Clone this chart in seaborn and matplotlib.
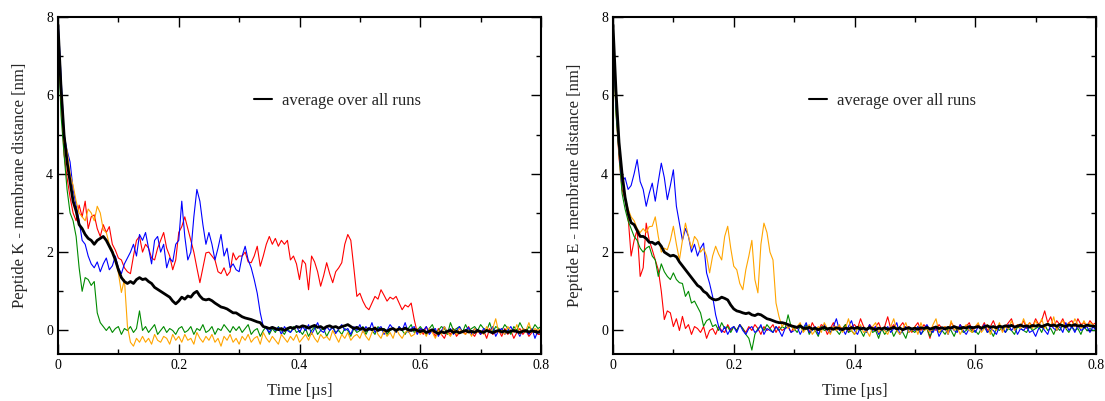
import numpy as np
import pandas as pd
import matplotlib
matplotlib.use("Agg")
import matplotlib.pyplot as plt
import seaborn as sns
from matplotlib.ticker import MultipleLocator, FuncFormatter
from matplotlib.lines import Line2D

# sample times (us): one value every 0.005 us, 0 .. 0.8
time_us = np.round(np.arange(161) * 0.005, 3)

# ---------------- Peptide K ----------------
k_red = [
    7.5, 6.0, 4.5, 3.9, 3.4, 3.0, 2.8, 3.2, 2.9, 3.3, 2.6, 2.9, 2.95, 2.6, 2.4, 2.7, 2.5, 2.65, 2.2, 2.05,
    1.85, 1.8, 1.6, 1.5, 1.45, 1.9, 2.3, 2.4, 2.0, 2.2, 2.1, 1.85, 1.8, 2.1, 2.3, 2.5, 2.1, 1.9, 1.55, 1.8,
    2.5, 2.65, 2.9, 2.6, 2.3, 2.0, 1.6, 1.22, 1.6, 1.98, 2.0, 1.9, 1.8, 1.5, 1.45, 1.6, 1.4, 1.5, 1.98, 1.8,
    1.9, 1.9, 2.0, 1.75, 1.73, 1.9, 2.15, 1.64, 1.9, 2.2, 2.4, 2.2, 2.35, 2.15, 2.3, 2.2, 2.3, 1.8, 1.9, 1.7,
    1.3, 1.8, 1.7, 1.04, 1.9, 1.75, 1.5, 1.13, 1.4, 1.73, 1.45, 1.22, 1.5, 1.6, 1.73, 2.2, 2.45, 2.3, 1.6, 0.87,
    0.95, 0.75, 0.6, 0.53, 0.7, 0.87, 0.8, 1.04, 0.9, 0.75, 0.85, 0.8, 0.87, 0.7, 0.53, 0.65, 0.6, 0.7, 0.28, -0.05,
    0.05, -0.1, 0.1, -0.05, 0.0, -0.15, 0.05, -0.1, -0.2, 0.0, -0.1, 0.05, -0.15, -0.05, 0.0, -0.1, 0.1, -0.05, -0.15, 0.0,
    -0.1, 0.0, -0.2, 0.05, -0.1, -0.05, 0.0, -0.15, 0.05, -0.1, 0.0, -0.2, -0.05, 0.05, -0.1, 0.0, -0.15, -0.05, 0.0, -0.1,
    -0.1,
]
k_green = [
    7.6, 5.5, 4.5, 3.6, 3.0, 2.8, 2.4, 1.6, 1.0, 1.35, 1.3, 1.15, 1.25, 0.45, 0.2, 0.1, 0.0, 0.1, -0.05, 0.05,
    0.1, -0.1, 0.05, 0.0, 0.1, -0.05, 0.05, 0.5, 0.0, 0.1, -0.05, 0.05, 0.15, -0.1, 0.0, 0.1, -0.05, 0.05, 0.0, -0.1,
    0.05, 0.1, -0.05, 0.0, 0.1, -0.1, 0.05, 0.0, 0.15, -0.05, 0.0, 0.1, -0.1, 0.05, 0.0, 0.15, 0.05, -0.05, 0.1, 0.0,
    0.1, -0.05, 0.05, 0.15, -0.1, 0.0, 0.05, -0.15, 0.0, 0.1, -0.1, 0.05, -0.05, 0.1, 0.0, -0.1, 0.05, -0.05, 0.1, -0.05,
    0.0, -0.1, 0.05, -0.15, 0.0, 0.1, -0.1, 0.0, 0.05, -0.15, 0.0, 0.1, -0.05, 0.0, -0.1, 0.05, 0.0, -0.15, 0.05, -0.05,
    0.0, 0.1, -0.1, 0.05, 0.0, -0.1, 0.1, 0.0, 0.05, -0.1, 0.0, 0.05, -0.05, 0.1, 0.0, -0.1, 0.05, 0.15, -0.05, 0.0,
    0.1, 0.0, -0.1, 0.05, 0.15, -0.05, 0.0, 0.1, 0.05, -0.1, 0.2, 0.0, 0.05, 0.1, -0.05, 0.15, 0.0, 0.05, 0.1, 0.0,
    0.15, 0.05, 0.0, 0.2, -0.05, 0.1, 0.05, 0.0, 0.15, 0.05, -0.1, 0.1, 0.0, 0.2, 0.05, -0.05, 0.1, 0.0, 0.15, 0.05,
    0.1,
]
k_blue = [
    8.0, 6.5, 5.0, 4.6, 4.3, 3.6, 3.2, 2.8, 2.3, 2.2, 1.9, 1.7, 1.6, 1.75, 1.5, 1.7, 1.85, 1.55, 1.65, 1.9,
    1.6, 1.45, 1.7, 1.85, 2.0, 2.2, 1.9, 2.45, 2.3, 2.5, 2.1, 1.7, 2.3, 2.4, 2.0, 2.2, 1.6, 1.85, 1.75, 2.2,
    2.3, 3.3, 2.4, 1.8, 2.0, 2.9, 3.6, 3.3, 2.7, 2.2, 2.5, 2.2, 1.8, 2.1, 2.45, 1.9, 2.1, 1.6, 1.7, 1.55,
    1.5, 1.9, 2.15, 1.8, 1.6, 1.3, 0.95, 0.45, 0.1, 0.05, -0.05, 0.1, 0.0, 0.08, -0.1, 0.1, 0.0, -0.05, 0.05, 0.12,
    -0.05, 0.1, 0.0, 0.15, -0.1, 0.05, 0.2, 0.0, -0.05, 0.1, 0.0, 0.08, -0.08, 0.05, 0.15, 0.0, 0.05, -0.1, 0.1, 0.0,
    0.15, -0.05, 0.1, 0.0, 0.2, -0.05, 0.05, 0.1, -0.1, 0.0, 0.15, 0.05, -0.05, 0.1, 0.0, 0.2, -0.05, 0.05, 0.1, -0.1,
    0.05, 0.0, 0.1, -0.1, 0.0, 0.05, -0.15, 0.0, 0.1, -0.05, 0.05, -0.1, 0.0, 0.1, -0.05, 0.0, 0.08, -0.1, 0.05, 0.0,
    -0.1, 0.05, 0.0, -0.05, 0.1, -0.15, 0.0, 0.05, -0.1, 0.0, 0.1, -0.05, 0.0, -0.15, 0.05, 0.0, -0.1, 0.05, -0.2, 0.0,
    -0.1,
]
k_orange = [
    7.5, 6.0, 4.8, 4.6, 4.0, 3.7, 3.3, 3.0, 2.9, 2.8, 3.1, 3.0, 2.8, 3.17, 3.0, 2.57, 2.5, 2.2, 2.06, 1.8,
    1.47, 0.97, 1.3, 0.11, -0.3, -0.4, -0.2, -0.3, -0.15, -0.3, -0.2, -0.35, -0.1, -0.25, -0.3, -0.15, -0.2, -0.35, -0.1, -0.25,
    -0.15, -0.3, -0.1, -0.25, -0.2, -0.35, -0.05, -0.2, -0.3, -0.15, -0.25, -0.1, -0.3, -0.2, -0.4, -0.15, -0.25, -0.1, -0.3, -0.2,
    -0.35, -0.15, -0.25, -0.1, -0.3, -0.2, -0.15, -0.35, -0.05, -0.2, -0.3, -0.15, -0.25, -0.35, -0.1, -0.2, -0.3, -0.15, -0.25, -0.1,
    -0.3, -0.2, -0.1, -0.25, -0.05, -0.2, -0.3, -0.1, -0.2, -0.15, -0.25, 0.0, -0.15, -0.3, -0.1, -0.2, -0.05, -0.25, -0.15, -0.1,
    -0.2, 0.0, -0.15, -0.25, -0.05, 0.1, -0.1, -0.2, 0.0, -0.15, -0.05, -0.2, 0.05, -0.1, -0.2, -0.05, 0.0, -0.15, -0.1, 0.05,
    -0.1, 0.0, -0.15, 0.05, -0.05, -0.2, 0.0, -0.1, 0.1, -0.05, -0.15, 0.0, -0.1, 0.05, -0.05, -0.1, 0.0, -0.15, 0.05, -0.05,
    0.0, -0.1, 0.1, -0.05, 0.05, 0.3, -0.05, 0.0, -0.1, 0.1, 0.0, -0.05, 0.15, -0.1, 0.05, 0.0, 0.2, -0.05, 0.05, 0.0,
    0.05,
]
k_avg = [
    7.8, 6.2, 5.0, 4.3, 3.8, 3.3, 3.05, 2.7, 2.6, 2.45, 2.35, 2.3, 2.2, 2.3, 2.35, 2.4, 2.3, 2.15, 2.0, 1.8,
    1.55, 1.35, 1.25, 1.2, 1.25, 1.2, 1.3, 1.35, 1.3, 1.32, 1.25, 1.2, 1.1, 1.05, 1.0, 0.95, 0.9, 0.85, 0.75, 0.68,
    0.75, 0.85, 0.8, 0.88, 0.85, 0.95, 1.0, 0.88, 0.8, 0.78, 0.8, 0.76, 0.7, 0.65, 0.6, 0.58, 0.55, 0.5, 0.45, 0.45,
    0.4, 0.35, 0.32, 0.3, 0.28, 0.25, 0.22, 0.2, 0.1, 0.08, 0.05, 0.08, 0.05, 0.02, 0.05, 0.0, 0.05, 0.08, 0.05, 0.1,
    0.08, 0.12, 0.1, 0.06, 0.1, 0.13, 0.08, 0.1, 0.05, 0.1, 0.12, 0.08, 0.1, 0.06, 0.1, 0.12, 0.15, 0.1, 0.05, 0.08,
    0.03, 0.06, 0.0, 0.05, 0.02, 0.06, 0.0, 0.04, 0.02, -0.02, 0.03, 0.05, 0.0, 0.04, 0.02, 0.06, 0.02, 0.0, 0.03, 0.0,
    -0.03, 0.0, -0.05, -0.02, 0.02, -0.04, -0.08, -0.03, -0.06, -0.02, 0.0, -0.05, -0.02, -0.06, -0.03, 0.0, -0.04, -0.02, -0.05, 0.0,
    -0.03, -0.05, 0.0, -0.03, -0.06, -0.02, 0.0, -0.04, -0.01, -0.05, -0.02, 0.0, -0.03, -0.05, -0.02, 0.0, -0.04, -0.01, -0.03, -0.05,
    -0.03,
]

# ---------------- Peptide E ----------------
e_red = [
    7.4, 5.6, 4.4, 3.6, 3.34, 2.9, 1.9, 2.3, 2.57, 1.38, 1.6, 2.74, 2.3, 2.06, 1.8, 1.55, 1.0, 0.28, 0.5, 0.45,
    0.1, 0.3, 0.0, 0.36, 0.05, 0.15, -0.1, 0.1, 0.05, -0.05, 0.1, -0.2, 0.0, 0.05, -0.1, 0.1, 0.0, -0.05, 0.15, 0.0,
    0.1, 0.0, 0.15, 0.05, -0.05, 0.1, 0.0, 0.15, 0.05, -0.1, 0.1, 0.0, 0.05, 0.15, -0.05, 0.1, 0.0, 0.05, 0.1, -0.05,
    0.1, 0.05, 0.15, 0.0, 0.1, -0.05, 0.2, 0.05, 0.0, 0.15, 0.1, -0.1, 0.05, 0.2, 0.0, 0.1, 0.05, 0.15, -0.05, 0.1,
    0.15, 0.05, 0.3, 0.1, 0.0, 0.15, 0.05, 0.1, 0.2, 0.0, 0.1, 0.35, 0.05, 0.15, 0.0, 0.1, 0.2, 0.05, 0.1, -0.05,
    0.1, 0.2, 0.0, 0.15, 0.05, -0.2, 0.1, 0.0, 0.15, 0.05, 0.1, -0.05, 0.2, 0.1, 0.0, 0.15, 0.05, 0.1, 0.2, 0.0,
    0.1, 0.15, 0.05, 0.2, 0.0, 0.1, 0.25, 0.05, 0.15, 0.0, 0.1, 0.2, 0.3, 0.05, 0.15, 0.1, 0.25, 0.05, 0.2, 0.1,
    0.3, 0.15, 0.25, 0.5, 0.2, 0.35, 0.1, 0.25, 0.15, 0.3, 0.1, 0.2, 0.25, 0.1, 0.3, 0.15, 0.2, 0.1, 0.25, 0.15,
    0.2,
]
e_green = [
    7.5, 5.5, 4.5, 3.5, 3.1, 2.8, 2.6, 2.4, 2.3, 2.1, 2.0, 2.1, 2.15, 1.9, 1.8, 1.38, 1.7, 1.5, 1.38, 1.3,
    1.47, 1.3, 1.22, 1.2, 0.87, 1.0, 0.7, 0.75, 0.6, 0.45, 0.11, 0.25, 0.3, 0.1, 0.15, 0.0, 0.2, 0.05, 0.1, -0.05,
    0.1, 0.0, 0.15, 0.05, -0.1, -0.2, -0.5, -0.1, 0.05, 0.1, 0.0, 0.15, 0.05, -0.05, 0.1, 0.0, 0.1, 0.05, 0.4, 0.1,
    0.05, -0.05, 0.1, 0.0, 0.15, -0.1, 0.05, 0.0, -0.15, 0.1, 0.0, 0.05, -0.05, 0.1, 0.0, -0.1, 0.05, 0.15, -0.05, 0.0,
    -0.1, 0.05, 0.0, -0.15, 0.05, 0.1, -0.05, 0.0, -0.2, 0.05, -0.1, 0.0, 0.05, -0.15, 0.0, 0.1, -0.05, -0.2, 0.05, 0.0,
    -0.05, 0.1, -0.1, 0.0, 0.05, -0.15, 0.0, 0.1, -0.05, 0.0, -0.1, 0.05, 0.0, -0.15, 0.05, 0.1, -0.05, 0.0, 0.1, -0.05,
    0.0, -0.1, 0.05, 0.1, -0.05, 0.0, -0.15, 0.05, 0.0, 0.1, -0.05, 0.05, 0.0, -0.1, 0.1, 0.05, 0.0, -0.05, 0.1, 0.0,
    0.05, 0.1, -0.05, 0.15, 0.0, 0.05, -0.1, 0.1, 0.0, 0.15, 0.05, -0.05, 0.1, 0.0, 0.05, -0.1, 0.1, 0.0, 0.05, 0.0,
    0.0,
]
e_blue = [
    7.6, 5.8, 4.6, 3.8, 3.9, 3.6, 3.7, 4.0, 4.36, 3.8, 3.6, 3.17, 3.5, 3.76, 3.3, 3.8, 4.27, 3.9, 3.34, 3.7,
    4.1, 3.17, 2.74, 2.3, 2.6, 2.4, 2.0, 2.2, 1.9, 2.1, 2.23, 1.47, 1.2, 0.87, 0.4, 0.1, -0.05, 0.1, -0.1, 0.05,
    0.1, -0.05, 0.15, 0.0, -0.1, 0.05, 0.1, -0.05, 0.0, 0.15, -0.1, 0.05, 0.0, -0.05, 0.1, 0.0, -0.15, 0.05, 0.1, -0.05,
    0.0, 0.1, -0.1, 0.05, 0.2, -0.05, 0.0, 0.1, -0.1, 0.05, 0.15, 0.0, -0.05, 0.1, 0.3, 0.0, 0.05, -0.1, 0.1, 0.25,
    0.0, -0.1, 0.1, 0.05, -0.05, 0.15, 0.0, 0.1, -0.1, 0.05, 0.0, 0.1, -0.05, 0.05, 0.2, -0.1, 0.0, 0.1, -0.05, 0.05,
    0.0, 0.1, -0.1, 0.05, 0.15, 0.0, -0.05, 0.1, -0.15, 0.0, 0.05, -0.1, 0.1, 0.0, -0.05, 0.15, 0.0, -0.1, 0.05, 0.1,
    -0.05, 0.1, 0.0, 0.15, -0.05, 0.05, 0.0, -0.1, 0.1, 0.05, -0.05, 0.15, 0.0, 0.1, -0.1, 0.05, 0.0, 0.1, -0.05, 0.0,
    -0.15, 0.05, 0.1, 0.0, -0.1, 0.15, 0.05, 0.0, 0.1, -0.05, 0.2, 0.0, 0.1, -0.05, 0.15, 0.0, 0.05, 0.1, -0.05, 0.1,
    0.0,
]
e_orange = [
    7.7, 6.0, 4.6, 4.0, 3.4, 3.1, 2.9, 2.8, 2.6, 2.5, 2.6, 2.5, 2.65, 2.66, 2.9, 2.4, 2.0, 2.1, 2.06, 2.3,
    2.66, 2.2, 1.8, 2.3, 2.74, 2.4, 2.1, 2.4, 2.3, 2.0, 2.1, 1.9, 1.47, 1.9, 2.15, 1.95, 1.8, 2.4, 2.66, 2.1,
    1.64, 1.55, 1.2, 1.04, 1.55, 1.9, 2.3, 1.3, 0.96, 2.2, 2.74, 2.5, 2.0, 1.8, 0.7, 0.35, 0.1, 0.2, 0.05, 0.15,
    0.0, 0.1, 0.2, -0.05, 0.05, 0.15, -0.1, 0.0, 0.1, -0.05, 0.2, 0.05, -0.1, 0.1, 0.0, 0.15, -0.05, 0.05, 0.3, 0.0,
    -0.1, 0.05, 0.15, -0.05, 0.0, -0.15, 0.1, 0.2, -0.05, 0.05, 0.0, -0.1, 0.1, 0.3, 0.0, -0.1, 0.05, 0.2, -0.05, 0.0,
    0.1, -0.1, 0.2, 0.0, 0.05, -0.05, 0.15, 0.3, -0.05, 0.05, 0.1, -0.1, 0.25, 0.0, 0.1, -0.1, 0.05, 0.15, 0.0, -0.05,
    0.1, 0.2, -0.05, 0.05, 0.15, -0.1, 0.1, 0.0, 0.2, -0.05, 0.1, 0.05, 0.25, 0.0, 0.15, 0.05, 0.3, 0.1, 0.2, 0.05,
    0.25, 0.1, 0.3, 0.05, 0.2, 0.1, 0.35, 0.0, 0.15, 0.25, 0.05, 0.2, 0.1, 0.3, 0.15, 0.05, 0.25, 0.1, 0.2, 0.15,
    0.1,
]
e_avg = [
    7.8, 6.1, 4.8, 4.0, 3.4, 3.0, 2.75, 2.7, 2.55, 2.4, 2.4, 2.35, 2.25, 2.25, 2.2, 2.25, 2.15, 2.0, 1.95, 1.9,
    1.92, 1.88, 1.75, 1.65, 1.55, 1.45, 1.35, 1.25, 1.15, 1.1, 1.0, 0.95, 0.85, 0.8, 0.78, 0.8, 0.85, 0.82, 0.78, 0.65,
    0.55, 0.5, 0.48, 0.45, 0.43, 0.45, 0.4, 0.38, 0.42, 0.4, 0.35, 0.3, 0.28, 0.25, 0.22, 0.2, 0.2, 0.18, 0.15, 0.12,
    0.1, 0.08, 0.12, 0.06, 0.05, 0.08, 0.04, 0.06, 0.02, 0.05, 0.08, 0.04, 0.06, 0.03, 0.07, 0.05, 0.02, 0.06, 0.04, 0.07,
    0.05, 0.08, 0.04, 0.06, 0.03, 0.07, 0.05, 0.02, 0.06, 0.04, 0.07, 0.03, 0.05, 0.08, 0.04, 0.06, 0.02, 0.05, 0.07, 0.04,
    0.06, 0.03, 0.07, 0.05, 0.08, 0.04, 0.06, 0.09, 0.05, 0.07, 0.04, 0.08, 0.06, 0.1, 0.07, 0.05, 0.08, 0.06, 0.1, 0.07,
    0.08, 0.1, 0.06, 0.09, 0.12, 0.08, 0.1, 0.07, 0.11, 0.09, 0.12, 0.1, 0.13, 0.09, 0.11, 0.14, 0.1, 0.12, 0.09, 0.13,
    0.11, 0.14, 0.1, 0.13, 0.16, 0.12, 0.14, 0.11, 0.15, 0.12, 0.1, 0.14, 0.12, 0.15, 0.11, 0.13, 0.1, 0.14, 0.12, 0.11,
    0.1,
]

run_colors = {"red": "#ff0000", "green": "#008b00", "blue": "#0000ff", "orange": "#ffa500"}

panels = [
    ("Peptide K - membrane distance [nm]",
     {"red": k_red, "green": k_green, "blue": k_blue, "orange": k_orange}, k_avg),
    ("Peptide E - membrane distance [nm]",
     {"red": e_red, "green": e_green, "blue": e_blue, "orange": e_orange}, e_avg),
]

sns.set_style("ticks")
plt.rcParams['font.family'] = ['Liberation Serif', 'DejaVu Serif']

fig = plt.figure(figsize=(11.05, 4.01), dpi=100)
lefts = [58 / 1105, 613 / 1105]

for (ylabel, runs, avg), left in zip(panels, lefts):
    ax = fig.add_axes([left, 47 / 401, 483 / 1105, 337 / 401])
    for name, vals in runs.items():
        df = pd.DataFrame({"time": time_us, "dist": vals})
        sns.lineplot(data=df, x="time", y="dist", ax=ax, color=run_colors[name],
                     linewidth=0.8, estimator=None, sort=False)
    df = pd.DataFrame({"time": time_us, "dist": avg})
    sns.lineplot(data=df, x="time", y="dist", ax=ax, color="black",
                 linewidth=2.0, estimator=None, sort=False)

    ax.set_xlim(0, 0.8)
    ax.set_ylim(-0.6, 8)
    ax.xaxis.set_major_locator(MultipleLocator(0.2))
    ax.xaxis.set_minor_locator(MultipleLocator(0.1))
    ax.yaxis.set_major_locator(MultipleLocator(2))
    ax.yaxis.set_minor_locator(MultipleLocator(1))
    ax.xaxis.set_major_formatter(FuncFormatter(lambda v, _: f"{v:g}"))
    ax.yaxis.set_major_formatter(FuncFormatter(lambda v, _: f"{v:g}"))
    ax.tick_params(which="both", direction="in", top=True, right=True,
                   labelsize=10, width=1.0, colors="black")
    ax.tick_params(which="major", length=7)
    ax.tick_params(which="minor", length=3.5)
    for sp in ax.spines.values():
        sp.set_linewidth(1.5)
        sp.set_color("black")
    ax.set_xlabel("Time [µs]", fontsize=12, labelpad=8)
    ax.set_ylabel(ylabel, fontsize=12, labelpad=13)

    handle = Line2D([], [], color="black", linewidth=1.5)
    ax.legend([handle], ["average over all runs"], loc="center left",
              bbox_to_anchor=(0.405, 0.751), frameon=False, fontsize=12,
              handlelength=1.1, handletextpad=0.6, borderpad=0, borderaxespad=0)

fig.savefig("out.png", dpi=100)
